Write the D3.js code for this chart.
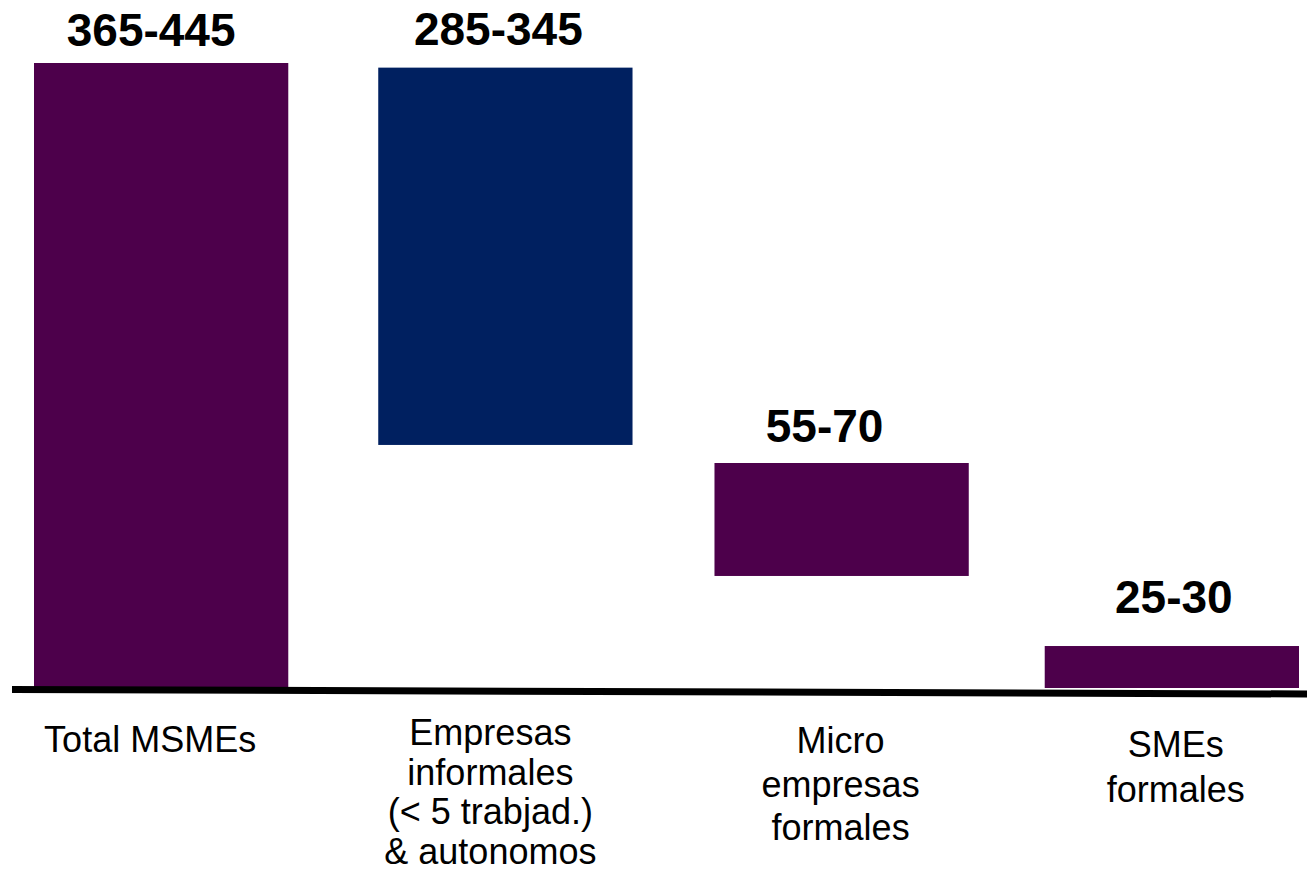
<!DOCTYPE html>
<html>
<head>
<meta charset="utf-8">
<script src="https://cdn.jsdelivr.net/npm/d3@7"></script>
<style>
  body { margin: 0; background: #fff; }
  text { font-family: "Liberation Sans", Arial, sans-serif; }
</style>
</head>
<body>
<div id="chart"></div>
<script>
// categories (one entry per line of the label)
var categories = [
    ["Total MSMEs"],
    ["Empresas", "informales", "(< 5 trabjad.)", "& autonomos"],
    ["Micro", "empresas", "formales"],
    ["SMEs", "formales"]
];
// range labels shown above the bars
var rangeLabels = ["365-445", "285-345", "55-70", "25-30"];
// floating bar start / end
var barLow = [0, 157.5, 72.6, 0];
var barHigh = [405, 402, 145.8, 27.2];
var barKind = ["total", "informal", "formal", "formal"];

// layout tweaks
var width = 1307, height = 882;
var barNudge = [1, 8, 7, 0];
var valueGap = [17, 23, 21, 33];
var valueShift = [-10, -7, -17, 2];
var labelShift = [-11, -15, -1, 4];
var labelFirstY = [752, 745, 753, 757];
var labelLineH = [0, 39.5, 43.5, 45];

var color = d3.scaleOrdinal()
    .domain(["total", "informal", "formal"])
    .range(["#4d004b", "#002060", "#4d004b"]);

var svg = d3.select("#chart")
    .append("svg")
    .attr("width", width)
    .attr("height", height);

var x = d3.scaleBand()
    .domain(d3.range(categories.length))
    .range([33, 1299])
    .paddingInner(0.246)
    .paddingOuter(0);

function bx(i) { return x(i) + barNudge[i] }

var y = d3.scaleLinear()
    .domain([0, 405])
    .range([688, 63]);

// bars
svg.append("g")
    .selectAll("rect")
    .data(d3.range(categories.length))
    .enter()
    .append("rect")
    .attr("x", function (i) { return bx(i) })
    .attr("width", x.bandwidth())
    .attr("y", function (i) { return y(barHigh[i]) })
    .attr("height", function (i) { return y(barLow[i]) - y(barHigh[i]) })
    .attr("fill", function (i) { return color(barKind[i]) });

// baseline
svg.append("line")
    .attr("x1", 12)
    .attr("x2", width)
    .attr("y1", y(0) + 1.5)
    .attr("y2", y(0) + 6)
    .attr("stroke", "#000")
    .attr("stroke-width", 7);

// range labels
svg.append("g")
    .selectAll("text")
    .data(d3.range(categories.length))
    .enter()
    .append("text")
    .attr("x", function (i) { return bx(i) + x.bandwidth() / 2 + valueShift[i] })
    .attr("y", function (i) { return y(barHigh[i]) - valueGap[i] })
    .attr("text-anchor", "middle")
    .attr("font-size", 46)
    .attr("font-weight", "bold")
    .attr("fill", "#000")
    .text(function (i) { return rangeLabels[i] });

// category labels
var cat = svg.append("g")
    .selectAll("text")
    .data(d3.range(categories.length))
    .enter()
    .append("text")
    .attr("text-anchor", "middle")
    .attr("font-size", 36)
    .attr("fill", "#000");

cat.selectAll("tspan")
    .data(function (i) {
        return categories[i].map(function (t, k) { return { i: i, k: k, t: t } })
    })
    .enter()
    .append("tspan")
    .attr("x", function (d) { return bx(d.i) + x.bandwidth() / 2 + labelShift[d.i] })
    .attr("y", function (d) { return labelFirstY[d.i] + d.k * labelLineH[d.i] })
    .text(function (d) { return d.t });
</script>
</body>
</html>
